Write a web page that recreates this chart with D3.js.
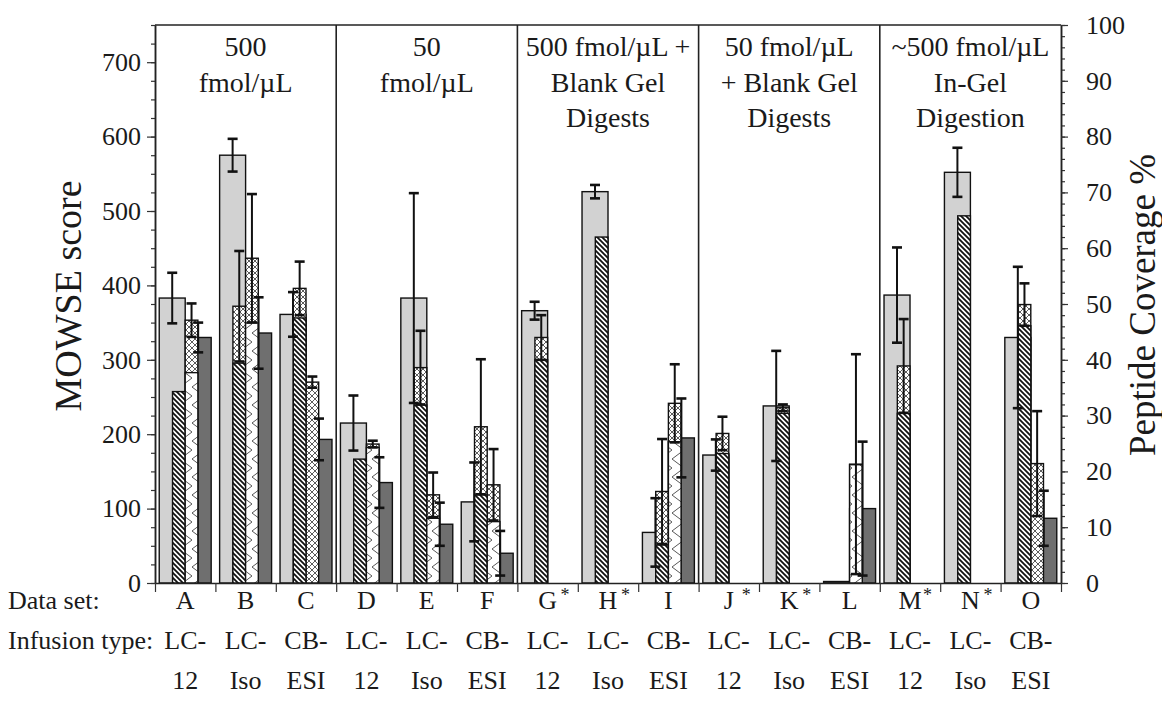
<!DOCTYPE html>
<html>
<head>
<meta charset="utf-8">
<script src="https://cdnjs.cloudflare.com/ajax/libs/d3/7.8.5/d3.min.js"></script>
<style>
body { margin: 0; background: #fff; }
svg text { font-family: "Liberation Serif", "Times New Roman", serif; fill: #1a1a1a; }
</style>
</head>
<body>
<div id="chart"></div>
<script>
var sets = ["A", "B", "C", "D", "E", "F", "G", "H", "I", "J", "K", "L", "M", "N", "O"];
var starred = ["G", "H", "J", "K", "M", "N"];
var infusionTop = ["LC-", "LC-", "CB-", "LC-", "LC-", "CB-", "LC-", "LC-", "CB-", "LC-", "LC-", "CB-", "LC-", "LC-", "CB-"];
var infusionBottom = ["12", "Iso", "ESI", "12", "Iso", "ESI", "12", "Iso", "ESI", "12", "Iso", "ESI", "12", "Iso", "ESI"];
var regionLabels = [
    ["500", "fmol/\u00b5L"],
    ["50", "fmol/\u00b5L"],
    ["500 fmol/\u00b5L +", "Blank Gel", "Digests"],
    ["50 fmol/\u00b5L", "+ Blank Gel", "Digests"],
    ["~500 fmol/\u00b5L", "In-Gel", "Digestion"]
];
var leftTicks = [0, 100, 200, 300, 400, 500, 600, 700];
var rightTicks = [0, 10, 20, 30, 40, 50, 60, 70, 80, 90, 100];

// MOWSE score (left axis)
var scoreLight = [383, 575, 361, 215, 383, 109, 366, 526, 68, 172, 238, 2, 387, 552, 330];
var scoreLightErr = [34, 22, 30, 37, 141, 53, 12, 9, 46, 21, 74, 0, 64, 33, 95];
var scoreDark = [330, 336, 193, 135, 79, 40, null, null, 195, null, null, 100, null, null, 87];
var scoreDarkErr = [20, 48, 28, 34, 29, 30, null, null, 53, null, null, 90, null, null, 37];

// Peptide coverage % (right axis)
var coverCross1 = [null, 49.6, 52.8, null, 38.6, 28.0, 44.0, null, 16.4, 26.8, 31.4, null, 38.9, null, 49.9];
var coverCross1Err = [null, 9.9, 4.8, null, 6.6, 12.1, 4.0, null, 9.4, 3.0, 0.6, null, 8.4, null, 3.8];
var coverHatch1 = [34.3, 39.4, 47.5, 22.2, 31.9, 15.8, 40.0, 62.0, 6.8, 23.2, 30.4, null, 30.4, 65.8, 46.1];
var coverCross2 = [47.1, 58.2, 36.0, 24.9, 15.8, 17.6, null, null, 32.2, null, null, 21.3, null, null, 21.4];
var coverCross2Err = [3.0, 11.5, 1.0, 0.6, 4.0, 6.4, null, null, 7.0, null, null, 19.7, null, null, 9.4];
var coverHatch2 = [37.7, 46.6, null, 24.3, 11.6, 11.0, null, null, 25.3, null, null, 21.2, null, null, null];

var w = 1162;
var h = 701;
var plotLeft = 155, plotRight = 1061, plotTop = 25, plotBottom = 583;

var svg = d3.select("#chart")
    .append("svg")
    .attr("width", w)
    .attr("height", h);

var defs = svg.append("defs");

// dense back-slash stripes
var p1 = defs.append("pattern").attr("id", "hatchBack")
    .attr("patternUnits", "userSpaceOnUse").attr("width", 5).attr("height", 5);
p1.append("rect").attr("width", 5).attr("height", 5).attr("fill", "#fff");
p1.append("path").attr("d", "M-1,-1 L6,6 M-1,4 L1,6 M4,-1 L6,1")
    .attr("stroke", "#111").attr("stroke-width", 1.8);

// open chevron pattern
var p2 = defs.append("pattern").attr("id", "chevron")
    .attr("patternUnits", "userSpaceOnUse").attr("width", 12).attr("height", 18);
p2.append("rect").attr("width", 12).attr("height", 18).attr("fill", "#fff");
p2.append("path").attr("d", "M12,0 L0,9 L12,18")
    .attr("fill", "none").attr("stroke", "#444").attr("stroke-width", 0.9);

// cross hatch
var p3 = defs.append("pattern").attr("id", "cross")
    .attr("patternUnits", "userSpaceOnUse").attr("width", 6).attr("height", 6);
p3.append("rect").attr("width", 6).attr("height", 6).attr("fill", "#fff");
p3.append("path").attr("d", "M0,0 L6,6 M6,0 L0,6")
    .attr("stroke", "#333").attr("stroke-width", 0.8);

var x = d3.scaleBand()
    .domain(sets)
    .range([plotLeft, plotRight]);

var xEdge = d3.scaleLinear()
    .domain([0, sets.length])
    .range([plotLeft, plotRight]);

var yL = d3.scaleLinear().domain([0, 750]).range([plotBottom, plotTop]);
var yR = d3.scaleLinear().domain([0, 100]).range([plotBottom, plotTop]);

var wide = x.bandwidth() * 0.43;
var narrow = x.bandwidth() * 0.21;

function cx(s) { return x(s) + x.bandwidth() / 2; }

function rows(values, errs, scale) {
    return sets.map(function(s, i) {
        return { set: s, v: values[i], e: errs ? errs[i] : null, scale: scale };
    }).filter(function(d) { return d.v != null; });
}

function drawBars(data, shift, width, fill) {
    svg.append("g").selectAll("rect")
        .data(data)
        .enter()
        .append("rect")
        .attr("x", function(d) { return cx(d.set) + shift; })
        .attr("y", function(d) { return d.scale(d.v); })
        .attr("width", width)
        .attr("height", function(d) { return plotBottom - d.scale(d.v); })
        .attr("fill", fill)
        .attr("stroke", "#111")
        .attr("stroke-width", 1.4);
}

function drawErrors(data, shift) {
    var g = svg.append("g").attr("stroke", "#111");
    data.filter(function(d) { return d.e > 0; }).forEach(function(d) {
        var ex = cx(d.set) + shift;
        var y1 = d.scale(d.v + d.e);
        var y2 = d.scale(Math.max(d.v - d.e, 0));
        g.append("line").attr("x1", ex).attr("x2", ex).attr("y1", y1).attr("y2", y2)
            .attr("stroke-width", 2);
        g.append("line").attr("x1", ex - 5).attr("x2", ex + 5).attr("y1", y1).attr("y2", y1)
            .attr("stroke-width", 2.6);
        g.append("line").attr("x1", ex - 5).attr("x2", ex + 5).attr("y1", y2).attr("y2", y2)
            .attr("stroke-width", 2.6);
    });
}

var light = rows(scoreLight, scoreLightErr, yL);
var dark = rows(scoreDark, scoreDarkErr, yL);
var cross1 = rows(coverCross1, coverCross1Err, yR);
var cross2 = rows(coverCross2, coverCross2Err, yR);
var hatch1 = rows(coverHatch1, null, yR);
var hatch2 = rows(coverHatch2, null, yR);

drawBars(dark, 0, wide, "#6f6f6f");
drawBars(light, -wide, wide, "#d2d2d2");
drawBars(cross1, -narrow, narrow, "url(#cross)");
drawBars(cross2, 0, narrow, "url(#cross)");
drawBars(hatch1, -narrow, narrow, "url(#hatchBack)");
drawBars(hatch2, 0, narrow, "url(#chevron)");

drawErrors(light, -wide / 2);
drawErrors(dark, wide / 2);
drawErrors(cross1, -narrow / 2);
drawErrors(cross2, narrow / 2);

// frame on top and region separators
svg.append("line")
    .attr("x1", plotLeft).attr("x2", plotRight).attr("y1", plotTop).attr("y2", plotTop)
    .attr("stroke", "#222").attr("stroke-width", 1.5);

var regionEdges = [3, 6, 9, 12];
svg.selectAll(".sep")
    .data(regionEdges)
    .enter()
    .append("line")
    .attr("class", "sep")
    .attr("x1", function(d) { return xEdge(d); })
    .attr("x2", function(d) { return xEdge(d); })
    .attr("y1", plotTop)
    .attr("y2", plotBottom)
    .attr("stroke", "#222")
    .attr("stroke-width", 1.6);

// region headings
regionLabels.forEach(function(lines, i) {
    var mid = (xEdge(i * 3) + xEdge(i * 3 + 3)) / 2;
    svg.append("text")
        .attr("text-anchor", "middle")
        .attr("font-size", 28)
        .selectAll("tspan")
        .data(lines)
        .enter()
        .append("tspan")
        .attr("x", mid)
        .attr("y", function(d, j) { return 56 + j * 35.5; })
        .text(function(d) { return d; });
});

// left axis
var gL = svg.append("g")
    .attr("transform", "translate(" + plotLeft + ",0)");
gL.call(d3.axisLeft(yL).tickValues(d3.range(0, 751, 25)).tickSize(4).tickFormat("").tickSizeOuter(0));
gL.append("g").call(d3.axisLeft(yL).tickValues(leftTicks).tickSize(8).tickPadding(6).tickSizeOuter(0));

// right axis
var gR = svg.append("g")
    .attr("transform", "translate(" + plotRight + ",0)");
gR.call(d3.axisRight(yR).tickValues(d3.range(0, 101, 2)).tickSize(4).tickFormat("").tickSizeOuter(0));
gR.append("g").call(d3.axisRight(yR).tickValues(rightTicks).tickSize(7).tickPadding(18).tickSizeOuter(0));

// bottom axis, ticks between data sets
var gB = svg.append("g")
    .attr("transform", "translate(0," + plotBottom + ")");
gB.call(d3.axisBottom(xEdge).ticks(sets.length).tickSize(9).tickFormat("").tickSizeOuter(0));

svg.selectAll(".domain").attr("stroke", "#222").attr("stroke-width", 1.5);
svg.selectAll(".tick line").attr("stroke", "#333").attr("stroke-width", 1.2);
svg.selectAll(".tick text")
    .attr("font-size", 26)
    .attr("fill", "#1a1a1a");

// axis titles
svg.append("text")
    .attr("transform", "translate(81,296) rotate(-90)")
    .attr("text-anchor", "middle")
    .attr("font-size", 38)
    .text("MOWSE score");

svg.append("text")
    .attr("transform", "translate(1155,305) rotate(-90)")
    .attr("text-anchor", "middle")
    .attr("font-size", 37)
    .text("Peptide Coverage %");

// category labels
var rowY = [609, 649, 689];

svg.append("text").attr("x", 8).attr("y", rowY[0]).attr("font-size", 26).text("Data set:");
svg.append("text").attr("x", 8).attr("y", rowY[1]).attr("font-size", 26).text("Infusion type:");

svg.selectAll(".setLabel")
    .data(sets)
    .enter()
    .append("text")
    .attr("class", "setLabel")
    .attr("x", function(d) { return cx(d); })
    .attr("y", rowY[0])
    .attr("text-anchor", "middle")
    .attr("font-size", 26)
    .text(function(d) { return d; });

svg.selectAll(".star")
    .data(starred)
    .enter()
    .append("text")
    .attr("class", "star")
    .attr("x", function(d) { return cx(d) + 13; })
    .attr("y", rowY[0] - 8)
    .attr("font-size", 18)
    .text("*");

svg.selectAll(".infTop")
    .data(infusionTop)
    .enter()
    .append("text")
    .attr("class", "infTop")
    .attr("x", function(d, i) { return cx(sets[i]); })
    .attr("y", rowY[1])
    .attr("text-anchor", "middle")
    .attr("font-size", 26)
    .text(function(d) { return d; });

svg.selectAll(".infBottom")
    .data(infusionBottom)
    .enter()
    .append("text")
    .attr("class", "infBottom")
    .attr("x", function(d, i) { return cx(sets[i]); })
    .attr("y", rowY[2])
    .attr("text-anchor", "middle")
    .attr("font-size", 26)
    .text(function(d) { return d; });
</script>
</body>
</html>
